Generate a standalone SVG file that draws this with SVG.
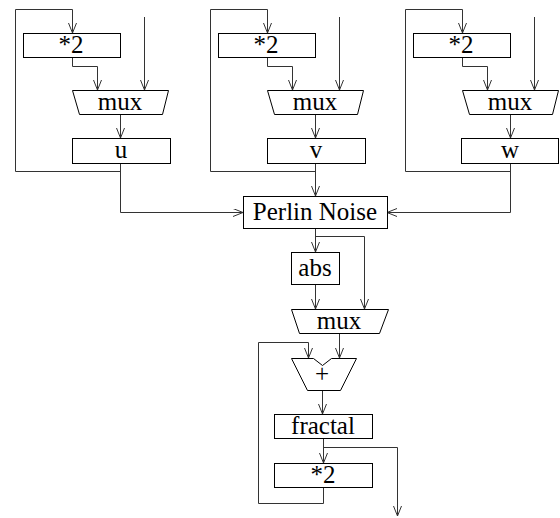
<svg xmlns="http://www.w3.org/2000/svg" width="560" height="518" viewBox="0 0 560 518">
<style>
.b{fill:#fff;stroke:#000;stroke-width:1}
.c{fill:none;stroke:#333;stroke-width:1}
text{font-family:"Liberation Serif","Times New Roman",serif;font-size:25px;text-anchor:middle;fill:#000}
</style>
<defs>
<marker id="a" markerUnits="userSpaceOnUse" markerWidth="12" markerHeight="10" refX="10" refY="4" orient="auto">
<path d="M0,0 L10,4 L0,8" fill="none" stroke="#333" stroke-width="1"/>
</marker>
</defs>
<rect width="560" height="518" fill="#fff"/>
<g id="connectors" class="c" marker-end="url(#a)">
<polyline points="120.5,171.5 15.5,171.5 15.5,9.5 72.5,9.5 72.5,33"/>
<polyline points="72.5,57 72.5,66.5 97.5,66.5 97.5,90"/>
<polyline points="144.5,17 144.5,90"/>
<polyline points="120.5,114 120.5,138"/>
<polyline points="120.5,163 120.5,212.5 243,212.5"/>
<polyline points="315.5,171.5 210.5,171.5 210.5,9.5 267.5,9.5 267.5,33"/>
<polyline points="267.5,57 267.5,66.5 292.5,66.5 292.5,90"/>
<polyline points="339.5,17 339.5,90"/>
<polyline points="315.5,114 315.5,138"/>
<polyline points="315.5,163 315.5,196"/>
<polyline points="510.5,171.5 405.5,171.5 405.5,9.5 462.5,9.5 462.5,33"/>
<polyline points="462.5,57 462.5,66.5 487.5,66.5 487.5,90"/>
<polyline points="534.5,17 534.5,90"/>
<polyline points="510.5,114 510.5,138"/>
<polyline points="510.5,163 510.5,212.5 387,212.5"/>
<polyline points="315.5,228 315.5,252"/>
<polyline points="315.5,236.5 364.5,236.5 364.5,309"/>
<polyline points="315.5,284 315.5,309"/>
<polyline points="339.5,333 339.5,358"/>
<polyline points="323.5,487 323.5,503.5 258.5,503.5 258.5,342.5 308.5,342.5 308.5,358"/>
<polyline points="322.5,390 322.5,414"/>
<polyline points="323.5,438 323.5,463"/>
<polyline points="323.5,447.5 397.5,447.5 397.5,516"/>
</g>
<g id="mul1"><rect class="b" x="23.5" y="33.5" width="97" height="24"/><text x="71" y="53">*2</text></g>
<g id="mux1"><polygon class="b" points="72.5,90.5 168.5,90.5 162.5,114.5 79.5,114.5"/><text x="120" y="110">mux</text></g>
<g id="u"><rect class="b" x="72.5" y="138.5" width="98" height="25"/><text x="121" y="158">u</text></g>
<g id="mul2"><rect class="b" x="218.5" y="33.5" width="97" height="24"/><text x="266" y="53">*2</text></g>
<g id="mux2"><polygon class="b" points="267.5,90.5 363.5,90.5 357.5,114.5 274.5,114.5"/><text x="315" y="110">mux</text></g>
<g id="v"><rect class="b" x="267.5" y="138.5" width="98" height="25"/><text x="316" y="158">v</text></g>
<g id="mul3"><rect class="b" x="413.5" y="33.5" width="97" height="24"/><text x="461" y="53">*2</text></g>
<g id="mux3"><polygon class="b" points="462.5,90.5 558.5,90.5 552.5,114.5 469.5,114.5"/><text x="510" y="110">mux</text></g>
<g id="w"><rect class="b" x="461.5" y="138.5" width="97" height="25"/><text x="510" y="158">w</text></g>
<g id="perlin"><rect class="b" x="243.5" y="196.5" width="144" height="32"/><text x="315" y="220">Perlin Noise</text></g>
<g id="abs"><rect class="b" x="291.5" y="252.5" width="48" height="32"/><text x="315" y="276">abs</text></g>
<g id="mux4"><polygon class="b" points="291.5,309.5 388.5,309.5 379.5,333.5 299.5,333.5"/><text x="339" y="329">mux</text></g>
<g id="adder"><polygon class="b" points="291.5,358.5 313.5,358.5 322.5,365.5 331.5,358.5 356.5,358.5 340.5,390.5 307.5,390.5"/><text x="322" y="382" font-weight="300">+</text></g>
<g id="fractal"><rect class="b" x="274.5" y="414.5" width="98" height="24"/><text x="323" y="434">fractal</text></g>
<g id="mul4"><rect class="b" x="274.5" y="463.5" width="98" height="24"/><text x="323" y="483">*2</text></g>
</svg>
